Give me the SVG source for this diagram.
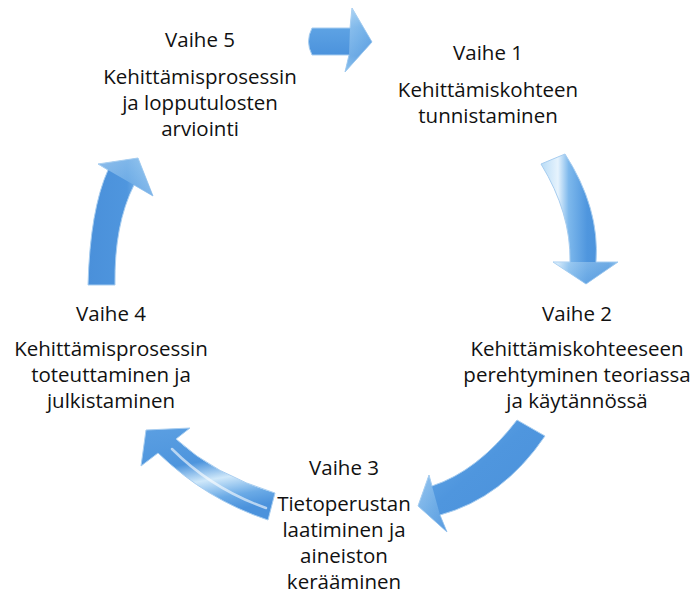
<svg xmlns="http://www.w3.org/2000/svg" width="691" height="596" viewBox="0 0 691 596">
  <style>
    .lbl { font-family: "Open Sans", "Noto Sans", "Liberation Sans", sans-serif; font-size: 20.5px; fill: #111; text-anchor: middle; }
    .arrow { stroke: #a7cdf0; stroke-width: 1; stroke-linejoin: round; }
    .gloss { fill: none; stroke: #ffffff; stroke-linecap: round; opacity: 0.6; }
  </style>
  <defs>
    <!-- bevelled blue fills, direction chosen per arrow -->
    <linearGradient id="gTop" x1="0" y1="0" x2="0" y2="1">
      <stop offset="0" stop-color="#9fcdf2"/>
      <stop offset="0.3" stop-color="#5ea3e4"/>
      <stop offset="0.75" stop-color="#4b92dc"/>
      <stop offset="1" stop-color="#8cc2ee"/>
    </linearGradient>
    <linearGradient id="gRight" x1="0" y1="0" x2="1" y2="0">
      <stop offset="0" stop-color="#b9dcf6"/>
      <stop offset="0.22" stop-color="#e6f3fd"/>
      <stop offset="0.36" stop-color="#7db8ec"/>
      <stop offset="0.6" stop-color="#4f96de"/>
      <stop offset="0.88" stop-color="#4a90da"/>
      <stop offset="1" stop-color="#8fc3ee"/>
    </linearGradient>
    <linearGradient id="gLowRight" x1="0" y1="0" x2="1" y2="1">
      <stop offset="0" stop-color="#6eb0ea"/>
      <stop offset="0.45" stop-color="#4f96de"/>
      <stop offset="1" stop-color="#4a90da"/>
    </linearGradient>
    <linearGradient id="gLowLeft" x1="0" y1="0" x2="0.25" y2="1">
      <stop offset="0" stop-color="#5b9fe2"/>
      <stop offset="0.45" stop-color="#4e95dd"/>
      <stop offset="0.65" stop-color="#cfe8fa"/>
      <stop offset="0.85" stop-color="#6aaae6"/>
      <stop offset="1" stop-color="#4b92dc"/>
    </linearGradient>
    <linearGradient id="gLeft" x1="0" y1="0" x2="1" y2="0">
      <stop offset="0" stop-color="#4a90da"/>
      <stop offset="0.6" stop-color="#4f96de"/>
      <stop offset="1" stop-color="#a9d2f3"/>
    </linearGradient>
    <linearGradient id="gHead" x1="0" y1="0" x2="1" y2="1">
      <stop offset="0" stop-color="#c6e2f8"/>
      <stop offset="0.5" stop-color="#8fc3ee"/>
      <stop offset="1" stop-color="#5e9fe2"/>
    </linearGradient>
  </defs>

  <!-- circular flow arrows -->
  <g id="connectors">
    <g id="arrow-5-1">
      <path class="arrow" fill="url(#gTop)" d="M312,28 L350,28 L352,8 L372,42 L345,72 L349,55 L312,55 Q305,41.5 312,28 Z"/>
      <path fill="url(#gHead)" opacity="0.55" d="M350,28 L352,8 L372,42 L345,72 L349,55 Z"/>
    </g>
    <g id="arrow-1-2">
      <path class="arrow" fill="url(#gRight)" d="M541,164 L565,154 Q600,208 596,262 L618,262 L586,284 L553,262 L570,262 Q571,213 541,164 Z"/>
      <path fill="url(#gHead)" opacity="0.5" d="M553,262 L618,262 L586,284 Z"/>
    </g>
    <g id="arrow-2-3">
      <path class="arrow" fill="url(#gLowRight)" d="M517,420 L545,436 Q503,498 440,515 L447,532 L418,506 L429,475 L432,486 Q478,471 517,420 Z"/>
      <path fill="url(#gHead)" opacity="0.55" d="M440,515 L447,532 L418,506 L429,475 L432,486 Z"/>
    </g>
    <g id="arrow-3-4">
      <path class="arrow" fill="url(#gLowLeft)" d="M275,493 L268,520 Q207,500 158,453 L141,466 L146,430 L190,428 L176,439 Q215,475 275,493 Z"/>
      <path class="gloss" stroke-width="2.5" d="M172,449 Q212,489 266,508"/>
    </g>
    <g id="arrow-4-5">
      <path class="arrow" fill="url(#gLeft)" d="M88,285 Q90,210 108,170 L98,164 L138,158 L153,196 L134,185 Q114,225 115,285 Z"/>
      <path fill="url(#gHead)" opacity="0.55" d="M108,170 L98,164 L138,158 L153,196 L134,185 Z"/>
    </g>
  </g>

  <g id="step5">
    <text class="lbl" x="200" y="47">Vaihe 5</text>
    <text class="lbl" x="200" y="84">Kehittämisprosessin</text>
    <text class="lbl" x="200" y="110">ja lopputulosten</text>
    <text class="lbl" x="200" y="136">arviointi</text>
  </g>
  <g id="step1">
    <text class="lbl" x="488" y="60">Vaihe 1</text>
    <text class="lbl" x="488" y="97">Kehittämiskohteen</text>
    <text class="lbl" x="488" y="123">tunnistaminen</text>
  </g>
  <g id="step2">
    <text class="lbl" x="577" y="320.5">Vaihe 2</text>
    <text class="lbl" x="577" y="356">Kehittämiskohteeseen</text>
    <text class="lbl" x="577" y="382">perehtyminen teoriassa</text>
    <text class="lbl" x="577" y="408">ja käytännössä</text>
  </g>
  <g id="step3">
    <text class="lbl" x="344" y="475">Vaihe 3</text>
    <text class="lbl" x="344" y="511">Tietoperustan</text>
    <text class="lbl" x="344" y="537">laatiminen ja</text>
    <text class="lbl" x="344" y="563">aineiston</text>
    <text class="lbl" x="344" y="589">kerääminen</text>
  </g>
  <g id="step4">
    <text class="lbl" x="111" y="320.5">Vaihe 4</text>
    <text class="lbl" x="111" y="356">Kehittämisprosessin</text>
    <text class="lbl" x="111" y="382">toteuttaminen ja</text>
    <text class="lbl" x="111" y="408">julkistaminen</text>
  </g>
</svg>
